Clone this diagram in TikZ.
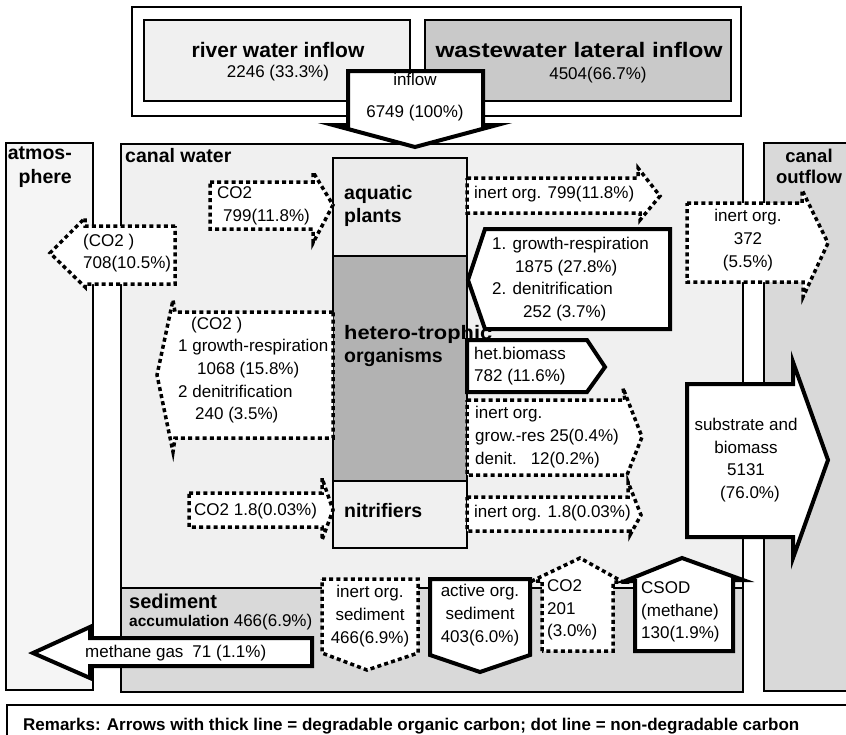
\documentclass[tikz,border=0pt]{standalone}
\usepackage{fontspec}
\setmainfont{Liberation Sans}
\usetikzlibrary{positioning}

\begin{document}
\begin{tikzpicture}[
			x=1pt, y=-1pt,
			region/.style={draw, line width=1.2pt},
			dotarrow/.style={draw, fill=white, line width=3.5pt, dash pattern=on 4pt off 3.2pt, line join=miter},
			thickarrow/.style={draw, fill=white, line width=4pt, line join=miter},
			txt/.style={inner sep=0pt, font=\fontsize{17}{22.6}\selectfont, align=left},
			label/.style={inner sep=0pt, font=\fontsize{19.5}{23.5}\selectfont\bfseries, align=left},
			headline/.style={inner sep=0pt, font=\fontsize{21}{24}\selectfont\bfseries}
			]
			\useasboundingbox (0,0) rectangle (846,734);
			
			% Inflow boxes
			\draw[region, line width=1.6pt, fill=white] (132,7) rectangle (741,116);
			\draw[region, fill=black!6] (144,20) rectangle (410,101);
			\draw[region, fill=black!21] (425,20) rectangle (731,101);
			\node[headline] (river) at (278,50) {river water inflow};
			\node[txt, below=7pt of river] (rivernum) {2246 (33.3\%)};
			\node[headline] (waste) at (579,50) {\scalebox{1.16}[1]{wastewater lateral inflow}};
			\node[txt] (wastenum) at (598,75) {4504(66.7\%)};
			
			% Compartments
			\draw[region, fill=black!4] (6,143) rectangle (93,690);
			\draw[region, fill=black!6] (121,144) rectangle (743,692);
			\draw[region, fill=black!15] (121,588) rectangle (743,692);
			\draw[region, fill=black!15] (764,143) rectangle (852,691);
			\draw[region, fill=white] (7,705) rectangle (852,740);
			\node[label, align=right, anchor=north east] (atmo) at (72,147) {atmos-\\phere};
			\node[label, anchor=north west] (canal) at (125,148) {canal water};
			\node[label, font=\fontsize{18.5}{21}\selectfont\bfseries, align=center, anchor=north] (outflow) at (809,149) {canal\\outflow};
			\node[label, font=\fontsize{20}{23}\selectfont\bfseries, anchor=west] (sed) at (129,601) {sediment};
			\node[txt, anchor=west] (accum) at (129,622) {{\fontsize{15.5}{18}\selectfont\bfseries accumulation} 466(6.9\%)};
			
			% Organism column
			\draw[region, fill=black!8] (333,158) rectangle (467,256);
			\draw[region, fill=black!30] (333,256) rectangle (467,481);
			\draw[region, fill=black!6] (333,481) rectangle (467,548);
			\node[label, anchor=west] (plants) at (344,206) {aquatic\\plants};
			\node[label, anchor=west] (hetero) at (344,346) {\scalebox{1.12}[1]{hetero-trophic}\\organisms};
			\node[label, anchor=west] (nitri) at (344,511) {nitrifiers};
			
			% Inflow arrow
			\draw[thickarrow] (348,71) -- (483,71) -- (483,125) -- (497,125) -- (415,147) -- (333,125) -- (348,125) -- cycle;
			\node[txt, align=center] (inflow) at (415,97) {inflow\\[9pt]6749 (100\%)};
			
			% Dotted arrows (non-degradable carbon)
			\draw[dotarrow] (210,182) -- (313,182) -- (313,172) -- (333,205) -- (313,243) -- (313,229) -- (210,229) -- cycle;
			\node[txt, anchor=west] (co2plants) at (217,206) {CO2\\\hspace*{6pt}799(11.8\%)};
			
			\draw[dotarrow] (175,226) -- (85,226) -- (85,218) -- (50,253) -- (85,287) -- (85,284) -- (175,284) -- cycle;
			\node[txt, anchor=west] (co2atmo) at (83,253) {(CO2 )\\708(10.5\%)};
			
			\draw[dotarrow] (467,178) -- (638,178) -- (638,168) -- (660,196) -- (640,220) -- (640,213) -- (467,213) -- cycle;
			\node[txt, anchor=west] (inertplants) at (474,194) {inert org. 799(11.8\%)};
			
			\draw[dotarrow] (333,312) -- (175,312) -- (173,300) -- (157,375) -- (173,452) -- (175,438) -- (333,438) -- cycle;
			\node[txt, anchor=west] (co2hetero) at (178,370) {\hspace*{13pt}(CO2 )\\1 growth-respiration\\\hspace*{19pt}1068 (15.8\%)\\2 denitrification\\\hspace*{17pt}240 (3.5\%)};
			
			\draw[dotarrow] (467,400) -- (625,400) -- (623,388) -- (642,437) -- (627,475) -- (467,475) -- cycle;
			\node[txt, anchor=west] (inerthetero) at (475,437) {inert org.\\grow.-res 25(0.4\%)\\denit.\hspace{14pt}12(0.2\%)};
			
			\draw[dotarrow] (467,497) -- (628,497) -- (628,482) -- (641,515) -- (630,535) -- (630,531) -- (467,531) -- cycle;
			\node[txt, anchor=west] (inertnitri) at (474,513) {inert org. 1.8(0.03\%)};
			
			\draw[dotarrow] (189,493) -- (322,493) -- (322,478) -- (333,510) -- (322,540) -- (322,527) -- (189,527) -- cycle;
			\node[txt, anchor=west] (co2nitri) at (194,511) {CO2 1.8(0.03\%)};
			
			\draw[dotarrow] (687,203) -- (802,203) -- (802,190) -- (828,243) -- (803,297) -- (803,282) -- (687,282) -- cycle;
			\node[txt, align=center] (inertout) at (748,240) {inert org.\\372\\(5.5\%)};
			
			\draw[dotarrow] (322,579) -- (418,579) -- (418,653) -- (367,670) -- (322,653) -- cycle;
			\node[txt, align=center] (inertsed) at (370,616) {inert org.\\sediment\\466(6.9\%)};
			
			\draw[dotarrow] (542,651) -- (542,581) -- (532,581) -- (580,558) -- (623,582) -- (613,582) -- (613,651) -- cycle;
			\node[txt, anchor=west] (co2sed) at (547,610) {CO2\\201\\(3.0\%)};
			
			% Thick arrows (degradable organic carbon)
			\draw[thickarrow] (670,229) -- (485,229) -- (468,280) -- (485,329) -- (670,329) -- cycle;
			\node[txt, anchor=west] (resp) at (492,279) {1. growth-respiration\\\hspace*{23pt}1875 (27.8\%)\\2. denitrification\\\hspace*{31pt}252 (3.7\%)};
			
			\draw[thickarrow] (467,340) -- (587,340) -- (605,367) -- (587,392) -- (467,392) -- cycle;
			\node[txt, anchor=west] (hetbio) at (474,366) {het.biomass\\782 (11.6\%)};
			
			\draw[thickarrow] (687,384) -- (793,384) -- (793,362) -- (828,460) -- (793,558) -- (793,537) -- (687,537) -- cycle;
			\node[txt, align=center] (substr) at (746,460) {substrate and\\biomass\\5131\\\hspace*{8pt}(76.0\%)};
			
			\draw[thickarrow] (312,638) -- (90,638) -- (90,627) -- (33,653) -- (90,678) -- (90,666) -- (312,666) -- cycle;
			\node[txt, anchor=west] (methgas) at (85,653) {methane gas\hspace{9pt}71 (1.1\%)};
			
			\draw[thickarrow] (430,579) -- (530,579) -- (530,655) -- (480,672) -- (430,655) -- cycle;
			\node[txt, align=center] (activesed) at (480,615) {active org.\\sediment\\403(6.0\%)};
			
			\draw[thickarrow] (635,651) -- (635,581) -- (625,581) -- (682,558) -- (743,580) -- (733,580) -- (733,651) -- cycle;
			\node[txt, anchor=west] (csod) at (641,612) {CSOD\\(methane)\\130(1.9\%)};
			
			% Remarks
			\node[inner sep=0pt, anchor=base west, font=\fontsize{17}{20}\selectfont\bfseries] (remarks) at (23,730) {Remarks: Arrows with thick line = degradable organic carbon; dot line = non-degradable carbon};
			
		\end{tikzpicture}
\end{document}
